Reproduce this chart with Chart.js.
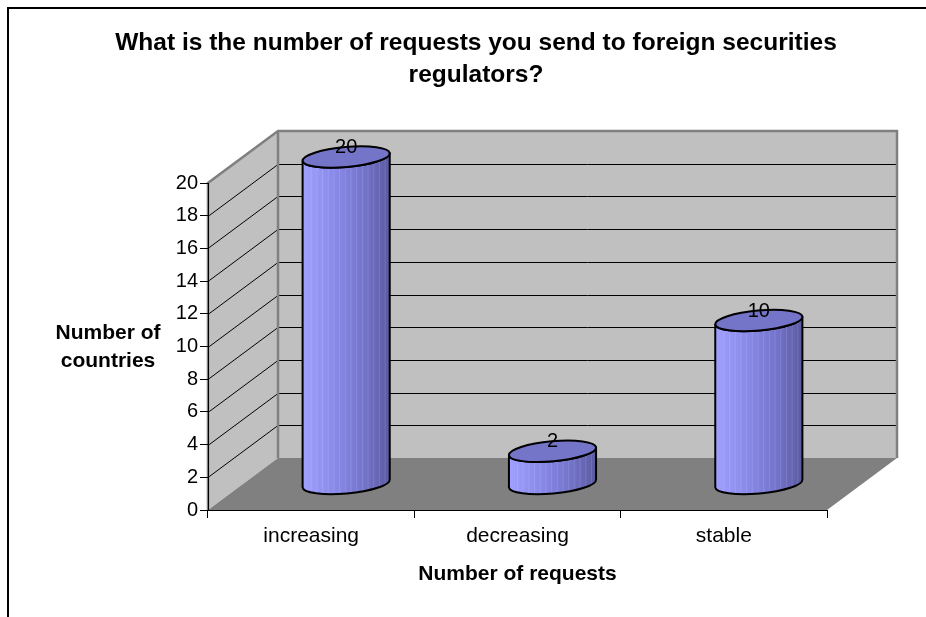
<!DOCTYPE html>
<html>
<head>
<meta charset="utf-8">
<script src="https://cdn.jsdelivr.net/npm/chart.js@4.4.1/dist/chart.umd.min.js"></script>
<style>
  html, body { margin: 0; padding: 0; background: #fff; }
</style>
</head>
<body>
<canvas id="chart1" width="926" height="617"></canvas>
<script>
const categorias = ['increasing', 'decreasing', 'stable'];
const valores = [20, 2, 10];
const yMin = 0, yMax = 20, yStep = 2;

const titulo = ['What is the number of requests you send to foreign securities', 'regulators?'];
const tituloY = ['Number of', 'countries'];
const tituloX = 'Number of requests';

const FONTE = '"Liberation Sans", Arial, Helvetica, sans-serif';
Chart.defaults.font.family = FONTE;
Chart.defaults.color = '#000';

// deslocamento da profundidade 3D
const DX = 70, DY = -52;

function poligono(ctx, pts) {
    ctx.beginPath();
    ctx.moveTo(pts[0][0], pts[0][1]);
    for (let i = 1; i < pts.length; i++) ctx.lineTo(pts[i][0], pts[i][1]);
    ctx.closePath();
}

const fundo3d = {
    id: 'fundo3d',
    beforeDraw(chart) {
        const ctx = chart.ctx;
        const sx = chart.scales.x, sy = chart.scales.y;
        const L = sx.left, R = sx.right;
        const T = sy.getPixelForValue(yMax), B = sy.getPixelForValue(yMin);
        ctx.save();
        ctx.fillStyle = '#fff';
        ctx.fillRect(0, 0, chart.width, chart.height);

        // paredes
        ctx.fillStyle = '#C0C0C0';
        poligono(ctx, [[L, T], [L + DX, T + DY], [L + DX, B + DY], [L, B]]);
        ctx.fill();
        ctx.fillRect(L + DX, T + DY, R - L, B - T);

        // linhas de grade
        ctx.strokeStyle = '#000';
        ctx.lineWidth = 1;
        for (let v = yMin + yStep; v < yMax; v += yStep) {
            const py = Math.round(sy.getPixelForValue(v)) + 0.5;
            ctx.beginPath();
            ctx.moveTo(L, py);
            ctx.lineTo(L + DX, py + DY);
            ctx.lineTo(R + DX, py + DY);
            ctx.stroke();
        }

        // chao
        ctx.fillStyle = '#808080';
        poligono(ctx, [[L, B], [R, B], [R + DX, B + DY], [L + DX, B + DY]]);
        ctx.fill();

        // bordas cinza
        ctx.strokeStyle = '#808080';
        ctx.lineWidth = 2.5;
        ctx.beginPath();
        ctx.moveTo(L, B);
        ctx.lineTo(L, T);
        ctx.lineTo(L + DX, T + DY);
        ctx.lineTo(R + DX, T + DY);
        ctx.lineTo(R + DX, B + DY);
        ctx.moveTo(L + DX, T + DY);
        ctx.lineTo(L + DX, B + DY);
        ctx.stroke();
        ctx.restore();
    }
};

function cilindro(ctx, cx, topo, base, rx, ry) {
    const rot = -0.09;
    const c = Math.cos(rot), s = Math.sin(rot);

    const corpo = new Path2D();
    corpo.moveTo(cx - rx * c, topo - rx * s);
    corpo.lineTo(cx - rx * c, base - rx * s);
    corpo.ellipse(cx, base, rx, ry, rot, Math.PI, 0, true);
    corpo.lineTo(cx + rx * c, topo + rx * s);
    corpo.ellipse(cx, topo, rx, ry, rot, 0, Math.PI, false);
    corpo.closePath();

    ctx.save();
    const grad = ctx.createLinearGradient(cx - rx, 0, cx + rx, 0);
    grad.addColorStop(0, '#A0A0FF');
    grad.addColorStop(0.35, '#8A8AEA');
    grad.addColorStop(0.7, '#7474CC');
    grad.addColorStop(1, '#5A5AA0');
    ctx.fillStyle = grad;
    ctx.fill(corpo);

    // listras verticais suaves
    ctx.save();
    ctx.clip(corpo);
    ctx.strokeStyle = 'rgba(255,255,255,0.12)';
    ctx.lineWidth = 1;
    for (let k = -0.8; k < 0.9; k += 0.13) {
        ctx.beginPath();
        ctx.moveTo(cx + k * rx, topo - ry - 10);
        ctx.lineTo(cx + k * rx, base + ry + 10);
        ctx.stroke();
    }
    ctx.restore();

    ctx.strokeStyle = '#000';
    ctx.lineWidth = 2;
    ctx.lineJoin = 'round';
    ctx.stroke(corpo);

    // tampa
    ctx.beginPath();
    ctx.ellipse(cx, topo, rx, ry, rot, 0, Math.PI * 2);
    ctx.fillStyle = '#7474C8';
    ctx.fill();
    ctx.stroke();
    ctx.restore();
}

const cilindros = {
    id: 'cilindros',
    afterDatasetsDraw(chart) {
        const ctx = chart.ctx;
        const meta = chart.getDatasetMeta(0);
        meta.data.forEach(function(bar, i) {
            const cx = bar.x + DX / 2;
            const topo = bar.y + DY / 2;
            const base = bar.base + DY / 2;
            cilindro(ctx, cx, topo, base, bar.width / 2, 10);

            ctx.save();
            ctx.fillStyle = '#000';
            ctx.font = '20px ' + FONTE;
            ctx.textAlign = 'center';
            ctx.textBaseline = 'alphabetic';
            ctx.fillText(String(valores[i]), cx, topo - 4);
            ctx.restore();
        });
    }
};

const textos = {
    id: 'textos',
    afterDraw(chart) {
        const ctx = chart.ctx;
        const sx = chart.scales.x;
        ctx.save();
        ctx.fillStyle = '#000';
        ctx.textAlign = 'center';
        ctx.textBaseline = 'alphabetic';

        ctx.font = 'bold 24.5px ' + FONTE;
        ctx.fillText(titulo[0], 476, 50);
        ctx.fillText(titulo[1], 476, 82);

        ctx.font = 'bold 21px ' + FONTE;
        ctx.fillText(tituloY[0], 108, 339);
        ctx.fillText(tituloY[1], 108, 367);
        ctx.fillText(tituloX, (sx.left + sx.right) / 2, 580);

        // moldura
        ctx.strokeStyle = '#000';
        ctx.lineWidth = 2;
        ctx.beginPath();
        ctx.moveTo(8, chart.height);
        ctx.lineTo(8, 8);
        ctx.lineTo(chart.width, 8);
        ctx.stroke();
        ctx.restore();
    }
};

const ctx1 = document.getElementById('chart1').getContext('2d');
const chart1 = new Chart(ctx1, {
    type: 'bar',
    data: {
        labels: categorias,
        datasets: [{
            label: 'Number of countries',
            data: valores,
            backgroundColor: 'rgba(0,0,0,0)',
            borderWidth: 0,
            categoryPercentage: 0.8,
            barPercentage: 0.53
        }]
    },
    options: {
        responsive: false,
        animation: false,
        layout: { padding: { top: 183, right: 99, bottom: 0, left: 0 } },
        plugins: {
            legend: { display: false },
            title: { display: false },
            tooltip: { enabled: false }
        },
        scales: {
            x: {
                grid: { drawOnChartArea: false, tickLength: 8, color: '#000', offset: true },
                border: { color: '#000', width: 1 },
                ticks: { color: '#000', font: { size: 21 }, padding: 6 },
                afterFit: function(scale) { scale.height = 107; }
            },
            y: {
                min: yMin,
                max: yMax,
                grid: { drawOnChartArea: false, tickLength: 8, color: '#000' },
                border: { color: '#000', width: 1 },
                ticks: { stepSize: yStep, color: '#000', font: { size: 20 }, padding: 2 },
                afterFit: function(scale) { scale.width = 208; }
            }
        }
    },
    plugins: [fundo3d, cilindros, textos]
});
</script>
</body>
</html>
